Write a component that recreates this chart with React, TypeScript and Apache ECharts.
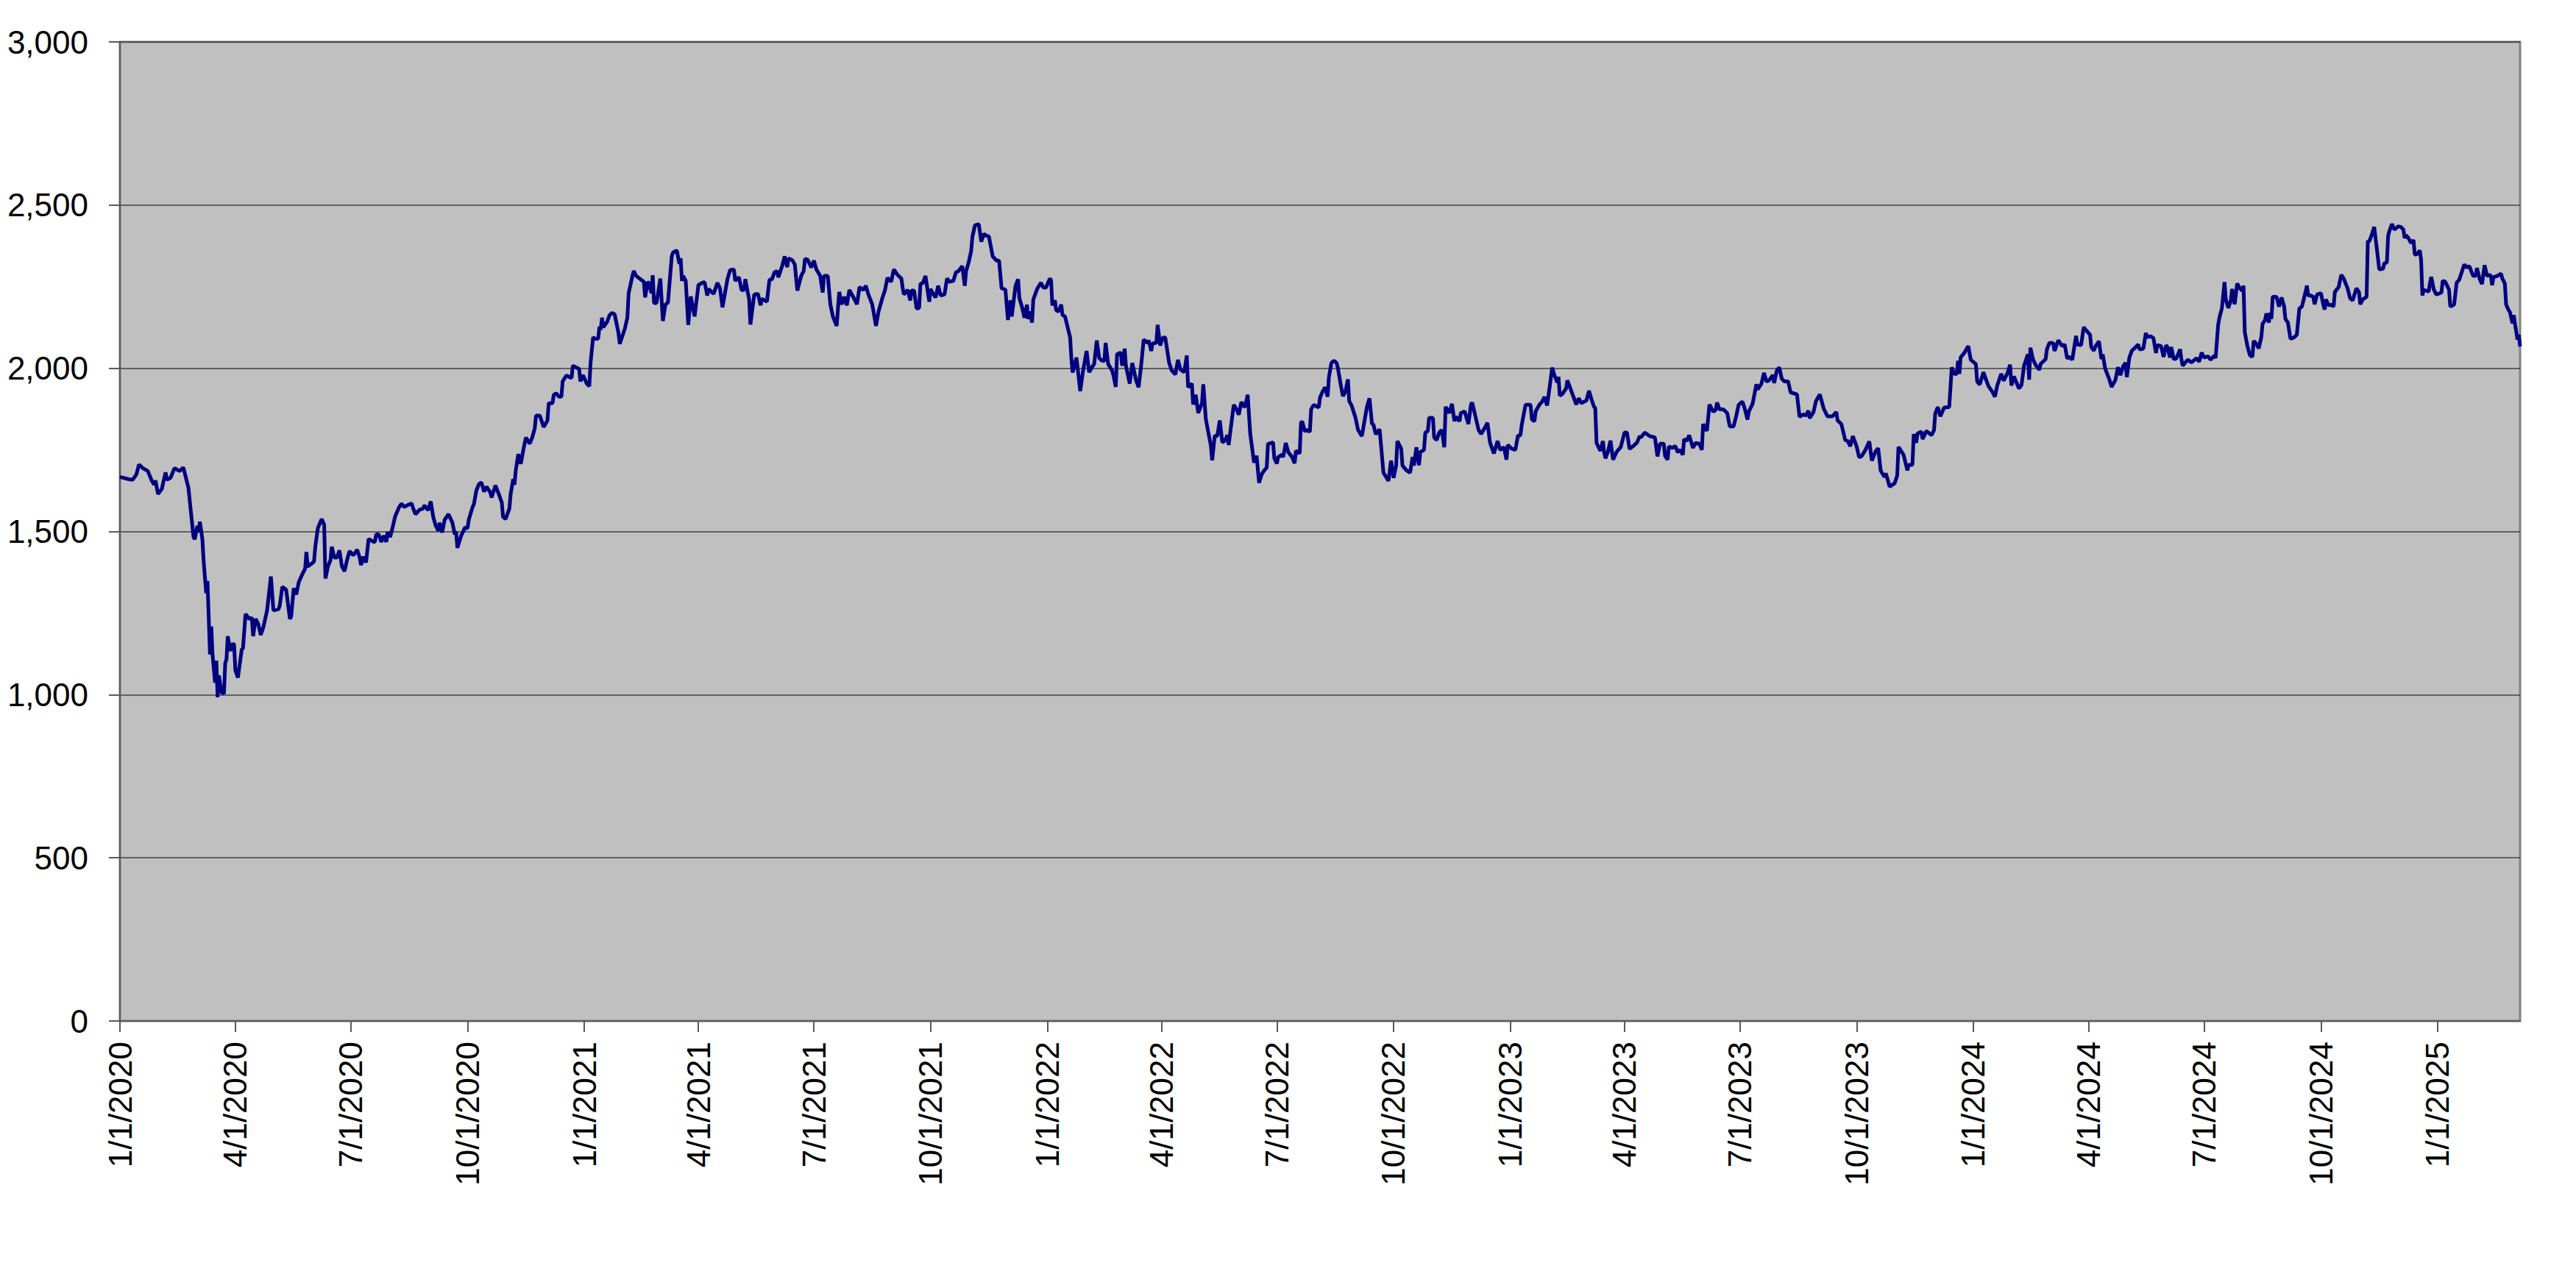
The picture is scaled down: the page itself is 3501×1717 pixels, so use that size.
import React, { useEffect, useRef } from "react";
import * as echarts from "echarts";

// Day index 0 = 1/1/2020; the last day (index 1892) is 3/7/2025.
const START_UTC = Date.UTC(2020, 0, 1);
const DAY_COUNT = 1893;

const Y_MIN = 0;
const Y_MAX = 3000;
const Y_STEP = 500;
const quarterStartMonths = [1, 4, 7, 10];

// [day index since 1/1/2020, value]
const values2020: [number, number][] = [
  [0, 1667], [7, 1660], [10, 1658], [13, 1675], [15, 1705], [18, 1694], [22, 1685], [25, 1656], [27, 1643], [28, 1656],
  [30, 1615], [33, 1630], [36, 1681], [37, 1658], [40, 1665], [43, 1694], [47, 1685], [50, 1696], [54, 1634], [56, 1558],
  [58, 1483], [59, 1476], [61, 1517], [62, 1498], [63, 1530], [65, 1476], [66, 1408], [68, 1311], [69, 1348], [71, 1123],
  [72, 1209], [73, 1123], [75, 1037], [76, 1104], [77, 992], [78, 1059], [80, 1007], [82, 1003], [83, 1097], [84, 1108],
  [85, 1179], [87, 1134], [89, 1157], [90, 1153], [91, 1074], [93, 1052], [96, 1138], [97, 1142], [99, 1247], [102, 1232],
  [104, 1236], [105, 1179], [107, 1232], [109, 1217], [111, 1183], [113, 1206], [116, 1258], [119, 1362], [121, 1258], [125, 1262],
  [126, 1273], [128, 1330], [131, 1322], [134, 1232], [135, 1240], [137, 1326], [139, 1307], [141, 1345], [144, 1371], [146, 1386],
  [147, 1437], [148, 1393], [151, 1401], [153, 1408], [154, 1453], [156, 1510], [159, 1538], [161, 1521], [162, 1356], [164, 1393],
  [166, 1412], [167, 1453], [169, 1420], [171, 1420], [173, 1442], [175, 1393], [177, 1378], [179, 1412], [181, 1440], [184, 1427],
  [187, 1444], [189, 1420], [190, 1397], [192, 1423], [194, 1405], [196, 1477], [200, 1468], [201, 1468], [202, 1491], [204, 1491],
  [206, 1468], [208, 1487], [210, 1468], [211, 1498], [213, 1483], [215, 1513], [217, 1547], [220, 1574], [222, 1585], [224, 1575],
  [227, 1581], [230, 1586], [231, 1572], [233, 1553], [236, 1566], [239, 1570], [240, 1580], [243, 1565], [245, 1592], [247, 1544],
  [249, 1517], [251, 1502], [252, 1527], [254, 1497], [256, 1536], [259, 1553], [262, 1528], [264, 1491], [265, 1500], [266, 1450],
  [269, 1487], [272, 1512], [274, 1510], [275, 1536], [278, 1575], [279, 1583], [281, 1626], [283, 1645], [285, 1650], [287, 1622],
  [289, 1637], [292, 1619], [293, 1604], [296, 1641], [299, 1611], [301, 1589], [302, 1545], [304, 1538], [307, 1570], [308, 1615],
  [310, 1660], [311, 1643], [312, 1686], [314, 1737], [316, 1707], [318, 1750], [320, 1788], [323, 1769], [325, 1788], [327, 1816],
  [328, 1855], [331, 1855], [334, 1820], [337, 1840], [338, 1893], [341, 1893], [342, 1919], [344, 1923], [346, 1913], [348, 1913],
  [349, 1960], [352, 1978], [356, 1970], [357, 2008], [362, 1998], [363, 1960], [365, 1979],
];

const values2021: [number, number][] = [
  [368, 1953], [370, 1945], [371, 2017], [373, 2095], [375, 2090], [377, 2091], [378, 2127], [379, 2118], [380, 2155], [381, 2125],
  [384, 2142], [386, 2163], [388, 2170], [390, 2165], [393, 2108], [394, 2075], [398, 2121], [400, 2155], [401, 2230], [404, 2283],
  [405, 2298], [407, 2283], [408, 2280], [411, 2271], [413, 2265], [414, 2217], [416, 2265], [417, 2260], [419, 2230], [420, 2285],
  [421, 2200], [423, 2200], [426, 2275], [428, 2145], [430, 2195], [432, 2202], [435, 2343], [436, 2355], [439, 2361], [441, 2320],
  [442, 2337], [443, 2268], [444, 2283], [446, 2268], [448, 2133], [450, 2220], [453, 2159], [456, 2255], [460, 2264], [461, 2262],
  [463, 2223], [464, 2243], [468, 2228], [471, 2262], [473, 2245], [475, 2187], [477, 2232], [479, 2275], [481, 2301], [484, 2303],
  [485, 2268], [488, 2279], [490, 2240], [492, 2240], [493, 2273], [495, 2230], [496, 2211], [497, 2134], [500, 2226], [503, 2228],
  [505, 2193], [506, 2213], [510, 2204], [512, 2271], [514, 2273], [516, 2294], [518, 2298], [519, 2279], [522, 2313], [524, 2343],
  [526, 2310], [527, 2337], [530, 2331], [532, 2318], [534, 2238], [537, 2283], [539, 2298], [540, 2335], [542, 2333], [545, 2309],
  [547, 2330], [549, 2303], [552, 2283], [554, 2232], [555, 2283], [558, 2283], [560, 2196], [562, 2159], [565, 2130], [567, 2234],
  [569, 2196], [571, 2219], [573, 2193], [575, 2240], [578, 2219], [581, 2196], [583, 2249], [586, 2240], [588, 2253], [590, 2226],
  [593, 2196], [596, 2130], [598, 2174], [601, 2215], [603, 2238], [605, 2277], [608, 2265], [610, 2303], [613, 2286], [616, 2275],
  [617, 2247], [618, 2226], [621, 2240], [623, 2208], [624, 2238], [626, 2238], [628, 2183], [630, 2185], [631, 2258], [633, 2262],
  [635, 2283], [638, 2204], [639, 2243], [641, 2228], [643, 2217], [645, 2253], [647, 2223], [650, 2226], [652, 2275], [654, 2265],
  [657, 2268], [659, 2294], [661, 2298], [664, 2313], [666, 2253], [667, 2298], [669, 2324], [671, 2359], [672, 2403], [674, 2438],
  [677, 2442], [679, 2388], [681, 2412], [683, 2406], [685, 2404], [688, 2343], [691, 2330], [693, 2330], [695, 2245], [698, 2241],
  [700, 2148], [702, 2208], [703, 2159], [706, 2253], [708, 2273], [709, 2215], [711, 2189], [713, 2155], [715, 2195], [716, 2151],
  [717, 2174], [719, 2140], [720, 2211], [723, 2243], [726, 2262], [728, 2247], [730, 2247],
];

const values2022: [number, number][] = [
  [733, 2275], [734, 2270], [735, 2193], [737, 2208], [738, 2178], [740, 2174], [742, 2195], [743, 2163], [745, 2159], [749, 2095],
  [750, 2031], [751, 1987], [754, 2033], [757, 1930], [759, 1987], [762, 2053], [764, 1988], [767, 2008], [768, 2013], [770, 2085],
  [772, 2031], [774, 2024], [776, 2022], [777, 2078], [779, 2013], [782, 1994], [783, 1981], [785, 1943], [786, 2043], [789, 2048],
  [790, 2008], [792, 2060], [793, 2008], [796, 1953], [798, 2016], [801, 1963], [803, 1942], [805, 2008], [807, 2088], [810, 2078],
  [811, 2085], [813, 2053], [814, 2076], [817, 2078], [818, 2133], [820, 2070], [822, 2093], [824, 2095], [827, 2018], [829, 1994],
  [832, 1981], [834, 2026], [836, 1996], [839, 1988], [841, 2039], [842, 1942], [845, 1953], [846, 1889], [848, 1919], [850, 1863],
  [853, 1893], [854, 1951], [856, 1844], [860, 1762], [861, 1718], [863, 1793], [865, 1792], [867, 1840], [869, 1773], [871, 1778],
  [873, 1795], [874, 1765], [878, 1888], [880, 1876], [882, 1858], [884, 1897], [886, 1883], [887, 1883], [889, 1919], [891, 1799],
  [894, 1711], [896, 1732], [898, 1649], [900, 1675], [902, 1687], [904, 1696], [905, 1768], [909, 1773], [910, 1724], [912, 1708],
  [913, 1728], [916, 1735], [917, 1728], [919, 1771], [921, 1743], [924, 1728], [926, 1709], [927, 1747], [930, 1739], [931, 1833],
  [932, 1837], [934, 1807], [936, 1811], [938, 1805], [939, 1874], [941, 1888], [945, 1880], [946, 1910], [948, 1928], [950, 1942],
  [952, 1913], [953, 1972], [955, 2017], [957, 2023], [959, 2017], [960, 2003], [962, 1957], [964, 1915], [966, 1928], [968, 1966],
  [969, 1900], [971, 1885], [974, 1848], [976, 1811], [979, 1792], [981, 1837], [983, 1882], [985, 1908], [987, 1829], [988, 1829],
  [990, 1798], [993, 1813], [994, 1769], [996, 1680], [1000, 1655], [1002, 1717], [1004, 1664], [1006, 1702], [1007, 1777], [1010, 1754],
  [1011, 1702], [1014, 1688], [1017, 1680], [1019, 1728], [1020, 1702], [1022, 1758], [1024, 1703], [1025, 1743], [1028, 1750], [1029, 1803],
  [1031, 1808], [1032, 1848], [1035, 1848], [1036, 1788], [1038, 1780], [1040, 1803], [1042, 1811], [1044, 1758], [1045, 1882], [1048, 1863],
  [1050, 1891], [1052, 1838], [1053, 1852], [1056, 1838], [1057, 1863], [1060, 1868], [1063, 1829], [1065, 1889], [1066, 1895], [1071, 1811],
  [1073, 1799], [1076, 1818], [1078, 1833], [1080, 1773], [1083, 1739], [1086, 1777], [1088, 1750], [1091, 1758], [1093, 1720], [1094, 1765],
];

const values2023: [number, number][] = [
  [1097, 1754], [1100, 1750], [1102, 1793], [1104, 1795], [1105, 1826], [1108, 1888], [1112, 1888], [1113, 1844], [1115, 1837], [1116, 1868],
  [1119, 1889], [1121, 1897], [1123, 1912], [1125, 1886], [1127, 1942], [1129, 2002], [1131, 1976], [1133, 1957], [1134, 1974], [1135, 1916],
  [1137, 1921], [1140, 1938], [1141, 1963], [1143, 1942], [1148, 1889], [1150, 1908], [1152, 1893], [1156, 1901], [1158, 1931], [1160, 1905],
  [1162, 1882], [1163, 1878], [1164, 1771], [1167, 1747], [1169, 1777], [1170, 1743], [1171, 1724], [1173, 1745], [1175, 1778], [1177, 1720],
  [1180, 1745], [1183, 1758], [1186, 1803], [1188, 1803], [1190, 1753], [1193, 1762], [1196, 1773], [1198, 1792], [1199, 1788], [1202, 1803],
  [1206, 1792], [1210, 1788], [1212, 1730], [1214, 1769], [1217, 1769], [1218, 1732], [1220, 1720], [1221, 1760], [1224, 1756], [1226, 1762],
  [1228, 1743], [1230, 1750], [1232, 1735], [1233, 1783], [1235, 1777], [1237, 1795], [1240, 1756], [1242, 1771], [1245, 1769], [1247, 1750],
  [1248, 1829], [1251, 1808], [1253, 1889], [1256, 1867], [1258, 1873], [1259, 1895], [1261, 1874], [1264, 1874], [1267, 1863], [1269, 1822],
  [1272, 1822], [1274, 1852], [1276, 1888], [1279, 1898], [1281, 1874], [1283, 1843], [1284, 1867], [1287, 1891], [1290, 1951], [1291, 1935],
  [1294, 1953], [1296, 1986], [1298, 1959], [1300, 1963], [1303, 1979], [1304, 1955], [1306, 1992], [1308, 2003], [1310, 1968], [1312, 1960],
  [1315, 1960], [1317, 1926], [1322, 1920], [1324, 1851], [1327, 1859], [1329, 1855], [1331, 1870], [1332, 1847], [1335, 1866], [1337, 1900],
  [1340, 1920], [1343, 1877], [1346, 1853], [1350, 1853], [1353, 1866], [1354, 1840], [1357, 1829], [1360, 1780], [1362, 1777], [1364, 1761],
  [1366, 1792], [1369, 1761], [1371, 1727], [1373, 1731], [1376, 1750], [1379, 1776], [1381, 1717], [1384, 1746], [1386, 1755], [1388, 1686],
  [1391, 1667], [1392, 1678], [1394, 1652], [1395, 1637], [1399, 1648], [1401, 1671], [1402, 1759], [1406, 1735], [1409, 1687], [1410, 1704],
  [1413, 1704], [1414, 1798], [1416, 1772], [1417, 1800], [1420, 1806], [1421, 1783], [1424, 1808], [1428, 1795], [1430, 1810], [1431, 1862],
  [1433, 1881], [1435, 1853], [1438, 1880], [1442, 1881], [1444, 2003], [1446, 1983], [1448, 1983], [1449, 2023], [1450, 1983], [1451, 2033],
  [1454, 2048], [1457, 2068], [1459, 2026],
];

const values2024: [number, number][] = [
  [1463, 2013], [1464, 1960], [1466, 1950], [1469, 1988], [1471, 1965], [1473, 1945], [1476, 1928], [1478, 1913], [1480, 1949], [1483, 1983],
  [1485, 1962], [1488, 1986], [1490, 2011], [1491, 1947], [1493, 1975], [1497, 1938], [1499, 1949], [1501, 2008], [1504, 2043], [1505, 1965],
  [1506, 2063], [1508, 2028], [1510, 2011], [1513, 1995], [1514, 2013], [1518, 2028], [1519, 2058], [1521, 2078], [1524, 2077], [1525, 2053],
  [1528, 2086], [1531, 2068], [1533, 2073], [1535, 2030], [1537, 2035], [1539, 2026], [1542, 2099], [1543, 2073], [1546, 2071], [1548, 2126],
  [1550, 2116], [1553, 2103], [1554, 2065], [1556, 2054], [1557, 2065], [1560, 2083], [1562, 2028], [1563, 2043], [1565, 1998], [1568, 1968],
  [1570, 1943], [1573, 1964], [1575, 2003], [1577, 1979], [1579, 2005], [1581, 2017], [1582, 1973], [1584, 2033], [1586, 2054], [1589, 2065],
  [1591, 2073], [1592, 2058], [1595, 2060], [1597, 2108], [1598, 2096], [1601, 2098], [1603, 2092], [1605, 2047], [1606, 2071], [1609, 2068],
  [1611, 2035], [1613, 2071], [1614, 2065], [1616, 2033], [1617, 2065], [1619, 2028], [1621, 2030], [1624, 2058], [1625, 2028], [1626, 2008],
  [1630, 2026], [1633, 2018], [1637, 2031], [1639, 2020], [1641, 2048], [1643, 2033], [1646, 2037], [1648, 2026], [1651, 2039], [1652, 2031],
  [1654, 2133], [1655, 2155], [1657, 2185], [1659, 2264], [1660, 2211], [1662, 2185], [1664, 2208], [1665, 2243], [1667, 2196], [1669, 2260],
  [1671, 2245], [1673, 2238], [1674, 2253], [1675, 2110], [1677, 2069], [1679, 2040], [1681, 2035], [1682, 2084], [1684, 2076], [1686, 2061],
  [1688, 2095], [1689, 2136], [1691, 2148], [1692, 2168], [1694, 2140], [1695, 2170], [1696, 2151], [1697, 2219], [1700, 2219], [1702, 2189],
  [1704, 2217], [1706, 2190], [1707, 2151], [1709, 2140], [1711, 2090], [1714, 2095], [1716, 2103], [1718, 2183], [1720, 2189], [1721, 2204],
  [1724, 2253], [1725, 2223], [1727, 2223], [1729, 2219], [1730, 2196], [1732, 2226], [1735, 2230], [1737, 2193], [1738, 2180], [1739, 2211],
  [1741, 2193], [1743, 2195], [1745, 2189], [1746, 2234], [1749, 2249], [1751, 2286], [1753, 2275], [1756, 2245], [1758, 2215], [1760, 2208],
  [1763, 2245], [1765, 2234], [1766, 2196], [1768, 2211], [1771, 2219], [1772, 2391], [1773, 2388], [1775, 2408], [1777, 2433], [1779, 2369],
  [1781, 2303], [1784, 2305], [1785, 2322], [1787, 2324], [1788, 2406], [1789, 2421], [1791, 2442], [1793, 2425], [1796, 2435], [1798, 2433],
  [1800, 2425], [1801, 2399], [1802, 2408], [1804, 2399], [1806, 2384], [1808, 2393], [1809, 2348], [1811, 2350], [1813, 2361], [1814, 2331],
  [1815, 2223], [1816, 2240], [1818, 2238], [1820, 2235], [1821, 2262], [1822, 2280], [1824, 2241], [1826, 2226],
];

const values2025: [number, number][] = [
  [1830, 2232], [1831, 2268], [1833, 2265], [1836, 2241], [1837, 2189], [1840, 2195], [1842, 2262], [1844, 2271], [1848, 2318], [1850, 2309],
  [1852, 2313], [1855, 2283], [1857, 2283], [1858, 2307], [1860, 2275], [1862, 2258], [1864, 2316], [1866, 2283], [1868, 2286], [1869, 2283],
  [1870, 2255], [1871, 2279], [1874, 2283], [1877, 2290], [1878, 2275], [1880, 2260], [1881, 2195], [1883, 2178], [1884, 2172], [1886, 2138],
  [1887, 2163], [1888, 2136], [1890, 2088], [1891, 2103], [1892, 2067],
];

const allValues: [number, number][] = [
  ...values2020, ...values2021, ...values2022, ...values2023, ...values2024, ...values2025,
];

function dayLabel(i: number): string {
  const d = new Date(START_UTC + i * 86400000);
  return `${d.getUTCMonth() + 1}/${d.getUTCDate()}/${d.getUTCFullYear()}`;
}

function isQuarterStart(label: string): boolean {
  const parts = label.split("/");
  return parts[1] === "1" && quarterStartMonths.includes(Number(parts[0]));
}

function withCommas(v: number): string {
  return String(Math.round(v)).replace(/\B(?=(\d{3})+(?!\d))/g, ",");
}

const FONT = "'Liberation Sans', Arial, Helvetica, sans-serif";

export default function App() {
  const ref = useRef<HTMLDivElement>(null);

  useEffect(() => {
    if (!ref.current) return;
    const chart = echarts.init(ref.current, null, { renderer: "svg" });

    const categories: string[] = [];
    for (let i = 0; i < DAY_COUNT; i++) categories.push(dayLabel(i));
    const seriesData: (number | null)[] = new Array(DAY_COUNT).fill(null);
    allValues.forEach(([day, v]) => {
      seriesData[day] = v;
    });

    chart.setOption({
      animation: false,
      backgroundColor: "#ffffff",
      grid: {
        left: 163,
        right: 76,
        top: 57,
        bottom: 329,
        show: true,
        backgroundColor: "#C0C0C0",
        borderColor: "#808080",
        borderWidth: 3,
        containLabel: false,
      },
      xAxis: {
        type: "category",
        data: categories,
        boundaryGap: false,
        axisLine: { show: true, lineStyle: { color: "#5a5a5a", width: 2 } },
        axisTick: {
          show: true,
          interval: (_i: number, v: string) => isQuarterStart(v),
          length: 15,
          lineStyle: { color: "#5a5a5a", width: 2 },
        },
        axisLabel: {
          interval: (_i: number, v: string) => isQuarterStart(v),
          rotate: 90,
          margin: 28,
          fontSize: 44,
          color: "#000000",
          fontFamily: FONT,
        },
        splitLine: { show: false },
      },
      yAxis: {
        type: "value",
        min: Y_MIN,
        max: Y_MAX,
        interval: Y_STEP,
        axisLine: { show: true, lineStyle: { color: "#5a5a5a", width: 2 } },
        axisTick: { show: true, length: 15, lineStyle: { color: "#5a5a5a", width: 2 } },
        axisLabel: {
          formatter: (v: number) => withCommas(v),
          margin: 43,
          fontSize: 44,
          color: "#000000",
          fontFamily: FONT,
        },
        splitLine: { show: true, lineStyle: { color: "#404040", width: 1.5 } },
      },
      series: [
        {
          type: "line",
          data: seriesData,
          connectNulls: true,
          symbol: "none",
          showSymbol: false,
          lineStyle: { color: "#000080", width: 5 },
          itemStyle: { color: "#000080" },
        },
      ],
    });

    return () => chart.dispose();
  }, []);

  return (
    <div
      ref={ref}
      style={{ position: "fixed", left: 0, top: 0, width: 3501, height: 1717 }}
    />
  );
}
